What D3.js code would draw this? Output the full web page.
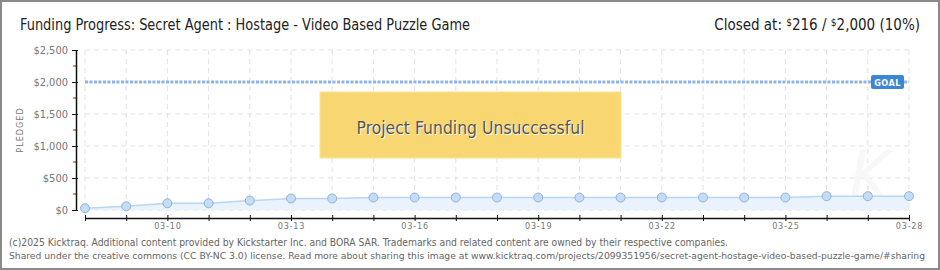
<!DOCTYPE html>
<html>
<head>
<meta charset="utf-8">
<script src="https://cdn.jsdelivr.net/npm/d3@7"></script>
<style>
  body { margin: 0; background: #fff; }
  svg { display: block; }
  text { font-family: "DejaVu Sans Condensed", "DejaVu Sans", sans-serif; }
</style>
</head>
<body>
<svg id="chart" width="940" height="270"></svg>
<script>
// days of the campaign, pledged totals
var days = ["03-08","03-09","03-10","03-11","03-12","03-13","03-14","03-15","03-16","03-17",
            "03-18","03-19","03-20","03-21","03-22","03-23","03-24","03-25","03-26","03-27","03-28"];
var pledged = [27, 58, 105, 105, 147, 180, 180, 195, 195, 195,
               195, 195, 195, 195, 195, 195, 195, 195, 216, 216, 216];
var goal = 2000;
var yTicks = [0, 500, 1000, 1500, 2000, 2500];
var yMinor = [250, 750, 1250, 1750, 2250];
var labelDays = ["03-10","03-13","03-16","03-19","03-22","03-25","03-28"];

var parse = d3.timeParse("%Y-%m-%d");
var dates = days.map(function(d){ return parse("2016-" + d); });
var data = dates.map(function(d, i){ return {date: d, value: pledged[i]}; });
var fmt = d3.timeFormat("%m-%d");

var svg = d3.select("#chart");

var x = d3.scaleTime().domain([dates[0], dates[dates.length-1]]).range([85, 909]);
var y = d3.scaleLinear().domain([0, 2500]).range([210, 50]);

// outer frame
svg.append("rect").attr("x", 1).attr("y", 1).attr("width", 938).attr("height", 268)
    .attr("fill", "#fff").attr("stroke", "#8a8a8a").attr("stroke-width", 2);

// title
svg.append("text").attr("x", 20).attr("y", 30)
    .attr("font-size", 16).attr("fill", "#222")
    .attr("textLength", 450).attr("lengthAdjust", "spacingAndGlyphs")
    .text("Funding Progress: Secret Agent : Hostage - Video Based Puzzle Game");

var closedLbl = svg.append("text").attr("x", 920).attr("y", 30)
    .attr("text-anchor", "end").attr("font-size", 15).attr("fill", "#222");
closedLbl.append("tspan").text("Closed at:  ");
closedLbl.append("tspan").attr("font-size", 10).attr("dy", -4).text("$");
closedLbl.append("tspan").attr("dy", 4).text("216 / ");
closedLbl.append("tspan").attr("font-size", 10).attr("dy", -4).text("$");
closedLbl.append("tspan").attr("dy", 4).text("2,000 (10%)");

// grid
var grid = svg.append("g").attr("stroke", "#e2e2e2").attr("stroke-dasharray", "5,4");
grid.selectAll(".vg").data(dates).enter().append("line")
    .attr("x1", function(d){ return x(d); }).attr("x2", function(d){ return x(d); })
    .attr("y1", y(2500)).attr("y2", y(0));
grid.selectAll(".hg").data(yTicks).enter().append("line")
    .attr("x1", x(dates[0])).attr("x2", x(dates[dates.length-1]))
    .attr("y1", function(d){ return y(d); }).attr("y2", function(d){ return y(d); });

// faint watermark
svg.append("text").attr("x", 870).attr("y", 200).attr("text-anchor", "middle")
    .attr("font-size", 70).attr("font-style", "italic").attr("fill", "#f8f8f8")
    .text("K");

// goal line
svg.append("line")
    .attr("x1", x(dates[0])).attr("x2", x(dates[dates.length-1]))
    .attr("y1", y(goal)).attr("y2", y(goal))
    .attr("stroke", "#8fb5e6").attr("stroke-width", 3).attr("stroke-dasharray", "3,1.5");

svg.append("rect").attr("x", 871).attr("y", 75).attr("width", 33).attr("height", 14)
    .attr("rx", 2).attr("fill", "#3b87d6");
svg.append("text").attr("x", 887.5).attr("y", 85.5).attr("text-anchor", "middle")
    .attr("font-size", 9).attr("font-weight", "bold").attr("fill", "#fff")
    .attr("letter-spacing", 0.5).text("GOAL");

// area + line
var area = d3.area().x(function(d){ return x(d.date); })
    .y0(y(0)).y1(function(d){ return y(d.value); });
var line = d3.line().x(function(d){ return x(d.date); }).y(function(d){ return y(d.value); });

svg.append("path").datum(data).attr("d", area).attr("fill", "#eaf3fd");
svg.append("path").datum(data).attr("d", line)
    .attr("fill", "none").attr("stroke", "#b9d5f2").attr("stroke-width", 1.5);
svg.selectAll(".pt").data(data).enter().append("circle")
    .attr("cx", function(d){ return x(d.date); })
    .attr("cy", function(d){ return y(d.value); })
    .attr("r", 4.5).attr("fill", "#c5dcf5").attr("stroke", "#91b2d8").attr("stroke-width", 1);

// unsuccessful banner
svg.append("rect").attr("x", 320).attr("y", 92).attr("width", 301).attr("height", 66)
    .attr("fill", "#f8d672").attr("stroke", "#f9e38f").attr("stroke-width", 1);
svg.append("text").attr("x", 471.5).attr("y", 134.5).attr("text-anchor", "middle")
    .attr("font-size", 18).attr("fill", "#fff")
    .attr("textLength", 228).attr("lengthAdjust", "spacingAndGlyphs")
    .text("Project Funding Unsuccessful");
svg.append("text").attr("x", 470.5).attr("y", 133.5).attr("text-anchor", "middle")
    .attr("font-size", 18).attr("fill", "#555")
    .attr("textLength", 228).attr("lengthAdjust", "spacingAndGlyphs")
    .text("Project Funding Unsuccessful");

// y axis
var yAxis = svg.append("g").attr("transform", "translate(76,0)")
    .call(d3.axisLeft(y).tickValues(yTicks).tickSize(0)
        .tickFormat(function(d){ return "$" + d3.format(",")(d); }));
yAxis.select(".domain").attr("stroke", "#111").attr("stroke-width", 1.5);
yAxis.selectAll(".tick text").attr("x", -8).attr("font-size", 11).attr("fill", "#777")
    .attr("font-family", "DejaVu Sans Condensed, DejaVu Sans, sans-serif");
yAxis.selectAll(".tick").append("line").attr("x1", -4).attr("x2", 2).attr("stroke", "#111");
yAxis.selectAll(".minor").data(yMinor).enter().append("line")
    .attr("x1", -3).attr("x2", 0)
    .attr("y1", function(d){ return y(d); }).attr("y2", function(d){ return y(d); })
    .attr("stroke", "#d40000");

svg.append("text").attr("transform", "translate(23,130) rotate(-90)")
    .attr("text-anchor", "middle").attr("font-size", 9).attr("fill", "#777")
    .attr("letter-spacing", 1).text("PLEDGED");

// x axis
var xAxis = svg.append("g").attr("transform", "translate(0,218)")
    .call(d3.axisBottom(x).tickValues(dates).tickSize(0)
        .tickFormat(function(d){ return labelDays.indexOf(fmt(d)) >= 0 ? fmt(d) : ""; }));
xAxis.select(".domain").attr("stroke", "#111").attr("stroke-width", 1.5);
xAxis.selectAll(".tick").append("line").attr("y1", -3).attr("y2", 3).attr("stroke", "#111");
xAxis.selectAll(".tick text").attr("y", 5).attr("font-size", 9).attr("fill", "#777")
    .attr("letter-spacing", 0.8)
    .attr("font-family", "DejaVu Sans Condensed, DejaVu Sans, sans-serif");

// footer
svg.append("text").attr("x", 9).attr("y", 246).attr("font-size", 10.5).attr("fill", "#666")
    .attr("font-family", "DejaVu Sans, sans-serif")
    .attr("textLength", 719).attr("lengthAdjust", "spacingAndGlyphs")
    .text("(c)2025 Kicktraq. Additional content provided by Kickstarter Inc. and BORA SAR. Trademarks and related content are owned by their respective companies.");
svg.append("text").attr("x", 9).attr("y", 259).attr("font-size", 9.5).attr("fill", "#666")
    .attr("font-family", "DejaVu Sans Condensed, DejaVu Sans, sans-serif")
    .attr("textLength", 916).attr("lengthAdjust", "spacingAndGlyphs")
    .text("Shared under the creative commons (CC BY-NC 3.0) license. Read more about sharing this image at www.kicktraq.com/projects/2099351956/secret-agent-hostage-video-based-puzzle-game/#sharing");
</script>
</body>
</html>
